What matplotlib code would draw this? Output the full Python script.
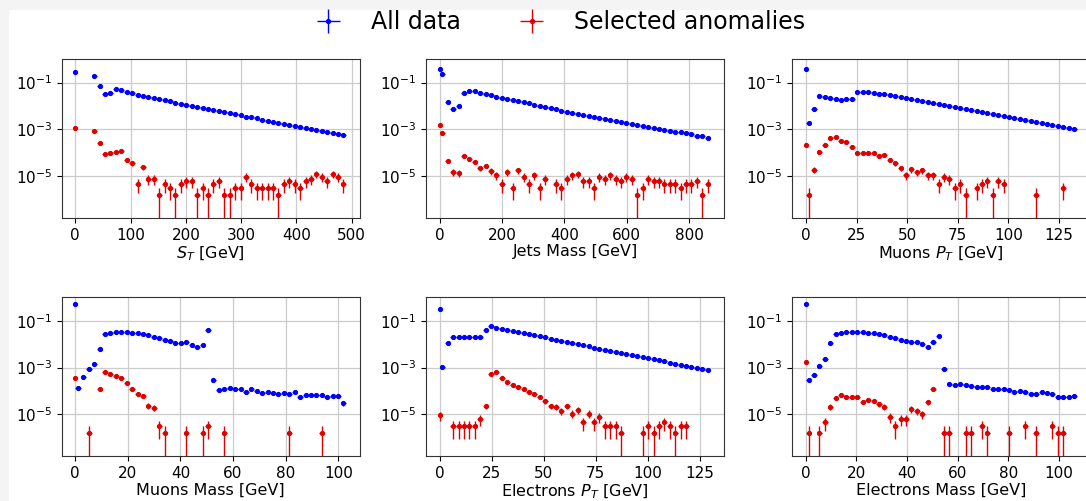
import numpy as np
import matplotlib
matplotlib.use("Agg")
import matplotlib.pyplot as plt
from matplotlib.patches import Rectangle
from matplotlib.ticker import NullLocator

# fraction of the full sample carried by one event (the lowest red level)
EVENT_WEIGHT = 1.5e-6
N_BINS = 50

# --- S_T ---------------------------------------------------------------
st_max = 490.0
st_zero = (0.28, 1.08e-3)
st_blue = [0, 0, 0, 0.187, 0.0743, 0.0336, 0.0371, 0.0533, 0.0483, 0.041,
           0.0347, 0.0304, 0.0272, 0.0243, 0.0217, 0.0194, 0.0173, 0.0155, 0.0138, 0.0123,
           0.0110, 0.0099, 0.0089, 0.0081, 0.0073, 0.0066, 0.0059, 0.0053, 0.0048, 0.0043,
           0.0039, 0.0035, 0.0032, 0.0029, 0.0026, 0.0023, 0.0021, 0.0019, 0.0017, 0.00155,
           0.0014, 0.00126, 0.00114, 0.00103, 0.00093, 0.00084, 0.00076, 0.00068, 0.00061, 0.00056]
st_red = [0, 0, 0, 8.3e-4, 2.45e-4, 8.8e-5, 9.4e-5, 1.07e-4, 1.18e-4, 4.9e-5,
          3.4e-5, 4.5e-6, 2.4e-5, 7.5e-6, 7.5e-6, 1.5e-6, 4.5e-6, 3e-6, 1.5e-6, 4.5e-6,
          6e-6, 6e-6, 1.5e-6, 3e-6, 1.5e-6, 4.5e-6, 6e-6, 1.5e-6, 1.5e-6, 3e-6,
          3e-6, 9e-6, 4.5e-6, 3e-6, 3e-6, 3e-6, 3e-6, 1.5e-6, 4.5e-6, 6e-6,
          4.5e-6, 3e-6, 6e-6, 7.5e-6, 1.2e-5, 9e-6, 6e-6, 1.2e-5, 9e-6, 4.5e-6]

# --- Jets mass ---------------------------------------------------------
jm_max = 868.0
jm_zero = (0.375, 1.5e-3)
jm_blue = [0.244, 0.0152, 0.00736, 0.0102, 0.0371, 0.0453, 0.0424, 0.0359, 0.0315, 0.0285,
           0.0250, 0.0224, 0.0200, 0.0178, 0.0159, 0.0142, 0.0127, 0.0113, 0.0101, 0.0090,
           0.0080, 0.0071, 0.0063, 0.0056, 0.0051, 0.0046, 0.0041, 0.0037, 0.0033, 0.0030,
           0.0027, 0.0025, 0.0022, 0.0020, 0.0018, 0.00165, 0.0015, 0.00135, 0.00125, 0.00113,
           0.00103, 0.00094, 0.00088, 0.00079, 0.00073, 0.00066, 0.0006, 0.00053, 0.00049, 0.00044]
jm_red = [6.8e-4, 4.4e-5, 1.43e-5, 1.35e-5, 7.4e-5, 5.5e-5, 3.85e-5, 2.1e-5, 2.7e-5, 1.6e-5,
          1.05e-5, 4.5e-6, 1.43e-5, 3e-6, 1.75e-5, 9e-6, 4.5e-6, 1.05e-5, 3e-6, 7.5e-6,
          0, 4.5e-6, 3e-6, 7.5e-6, 1.05e-5, 1.2e-5, 6e-6, 6e-6, 3e-6, 9e-6,
          7.5e-6, 1.05e-5, 7.5e-6, 6e-6, 9e-6, 7.5e-6, 1.5e-6, 3e-6, 7.5e-6, 6e-6,
          6e-6, 4.5e-6, 4.5e-6, 4.5e-6, 3e-6, 4.5e-6, 4.5e-6, 6e-6, 1.5e-6, 4.5e-6]

# --- Muons P_T ---------------------------------------------------------
mpt_max = 133.7
mpt_zero = (0.387, 2.1e-4)
mpt_blue = [1.84e-3, 7.4e-3, 0.0275, 0.0250, 0.0227, 0.0198, 0.0179, 0.0190, 0.0205, 0.0384,
            0.041, 0.0384, 0.0359, 0.0336, 0.0315, 0.0295, 0.0267, 0.0242, 0.0219, 0.0192,
            0.0176, 0.0160, 0.0146, 0.0133, 0.0121, 0.0110, 0.0100, 0.0091, 0.0083, 0.0075,
            0.0068, 0.0062, 0.0056, 0.0051, 0.0046, 0.0042, 0.0038, 0.0034, 0.0031, 0.0028,
            0.0025, 0.0023, 0.0021, 0.0019, 0.0017, 0.00155, 0.0014, 0.00127, 0.00115, 0.00101]
mpt_red = [1.5e-6, 1.86e-5, 1.04e-4, 2.2e-4, 4.4e-4, 4.5e-4, 3.2e-4, 2.7e-4, 1.76e-4, 1.0e-4,
           1.0e-4, 1.0e-4, 9.8e-5, 7.0e-5, 7.6e-5, 5.0e-5, 3.4e-5, 2.1e-5, 1.05e-5, 1.9e-5,
           1.4e-5, 1.7e-5, 1.05e-5, 1.05e-5, 4.5e-6, 9e-6, 7.5e-6, 3e-6, 4.5e-6, 1.5e-6,
           0, 3e-6, 4.5e-6, 6e-6, 1.5e-6, 6e-6, 4.5e-6, 0, 0, 0,
           0, 0, 1.5e-6, 0, 0, 0, 0, 3e-6, 0, 0]

# --- Muons mass --------------------------------------------------------
mm_max = 103.0
mm_zero = (0.515, 3.6e-4)
mm_blue = [1.33e-4, 4.1e-4, 8.4e-4, 1.41e-3, 5.97e-3, 0.0279, 0.0318, 0.034, 0.034, 0.0329,
           0.0318, 0.0297, 0.0270, 0.0244, 0.0214, 0.0182, 0.0159, 0.0131, 0.0115, 0.0115,
           0.0119, 0.0097, 0.0073, 0.0097, 0.0427, 3.0e-4, 1.1e-4, 1.17e-4, 1.33e-4, 1.17e-4,
           1.17e-4, 9.3e-5, 1.17e-4, 1.0e-4, 7.7e-5, 9.3e-5, 8.4e-5, 7.2e-5, 8.2e-5, 7.2e-5,
           8.8e-5, 5.2e-5, 6.7e-5, 6.7e-5, 6.4e-5, 6.7e-5, 5.7e-5, 6.1e-5, 6.1e-5, 2.95e-5]
mm_red = [0, 0, 1.5e-6, 0, 1.2e-4, 6.2e-4, 5.5e-4, 4.2e-4, 3.4e-4, 2.1e-4,
          1.2e-4, 7.1e-5, 6.1e-5, 2.3e-5, 1.9e-5, 3e-6, 1.5e-6, 0, 0, 0,
          1.5e-6, 0, 0, 1.5e-6, 3e-6, 0, 0, 1.5e-6, 0, 0,
          0, 0, 0, 0, 0, 0, 0, 0, 0, 1.5e-6,
          0, 0, 0, 0, 0, 1.5e-6, 0, 0, 0, 0]

# --- Electrons P_T -----------------------------------------------------
ept_max = 130.0
ept_zero = (0.315, 9e-6)
ept_blue = [1.09e-3, 0.0108, 0.0201, 0.021, 0.0195, 0.0195, 0.0195, 0.0214, 0.0427, 0.059,
            0.0503, 0.0456, 0.0413, 0.0374, 0.0328, 0.0298, 0.0268, 0.0241, 0.0217, 0.0195,
            0.0175, 0.0157, 0.0140, 0.0125, 0.0112, 0.0100, 0.0089, 0.0080, 0.0071, 0.0064,
            0.0057, 0.0052, 0.0047, 0.0042, 0.0038, 0.0034, 0.0031, 0.0028, 0.0025, 0.00225,
            0.00203, 0.00182, 0.00163, 0.00147, 0.00132, 0.00119, 0.00106, 0.00096, 0.00087, 0.00078]
ept_red = [0, 0, 3e-6, 3e-6, 3e-6, 3e-6, 3e-6, 6e-6, 2.27e-5, 5.3e-4,
           6.2e-4, 3.4e-4, 2.4e-4, 1.85e-4, 1.52e-4, 1.17e-4, 9.3e-5, 7.1e-5, 5.7e-5, 3.5e-5,
           2.27e-5, 2.1e-5, 1.4e-5, 2.27e-5, 1.05e-5, 1.53e-5, 4.5e-6, 1.05e-5, 4.5e-6, 7.5e-6,
           3e-6, 3e-6, 3e-6, 1.5e-6, 0, 0, 0, 1.5e-6, 3e-6, 1.5e-6,
           3e-6, 4.5e-6, 3e-6, 1.5e-6, 3e-6, 3e-6, 0, 0, 0, 0]

# --- Electrons mass ----------------------------------------------------
em_max = 107.0
em_zero = (0.515, 1.72e-3)
em_blue = [2.9e-4, 4.9e-4, 1.12e-3, 2.38e-3, 0.0111, 0.0279, 0.0318, 0.034, 0.034, 0.034,
           0.0329, 0.0318, 0.0297, 0.027, 0.0244, 0.0214, 0.0178, 0.0154, 0.0135, 0.0127,
           0.0119, 0.010, 7.8e-3, 0.0123, 0.0229, 8.4e-4, 2.04e-4, 1.8e-4, 1.98e-4, 1.74e-4,
           1.68e-4, 1.4e-4, 1.4e-4, 1.46e-4, 1.2e-4, 1.2e-4, 1.2e-4, 1.1e-4, 9.1e-5, 1.03e-4,
           9.1e-5, 7.2e-5, 7.2e-5, 9.3e-5, 8e-5, 7.0e-5, 5.4e-5, 5.2e-5, 5.4e-5, 6.1e-5]
em_red = [1.5e-6, 0, 1.5e-6, 4.5e-6, 2.1e-5, 4.8e-5, 6.9e-5, 5.7e-5, 5.2e-5, 5.7e-5,
          3.4e-5, 4.2e-5, 3.7e-5, 2.67e-5, 2.06e-5, 7.5e-6, 3e-6, 6e-6, 6e-6, 1.64e-5,
          1.4e-5, 1.03e-5, 3.25e-5, 1.17e-4, 0, 1.5e-6, 1.5e-6, 0, 0, 1.5e-6,
          1.5e-6, 0, 3e-6, 1.5e-6, 0, 0, 0, 1.5e-6, 0, 0,
          3e-6, 0, 1.5e-6, 0, 0, 3e-6, 1.5e-6, 1.5e-6, 0, 0]

PANELS = [
    (r"$S_T$ [GeV]", st_max, st_zero, st_blue, st_red),
    ("Jets Mass [GeV]", jm_max, jm_zero, jm_blue, jm_red),
    (r"Muons $P_T$ [GeV]", mpt_max, mpt_zero, mpt_blue, mpt_red),
    ("Muons Mass [GeV]", mm_max, mm_zero, mm_blue, mm_red),
    (r"Electrons $P_T$ [GeV]", ept_max, ept_zero, ept_blue, ept_red),
    ("Electrons Mass [GeV]", em_max, em_zero, em_blue, em_red),
]

BLUE = "#0000ff"
RED = "#e00000"

W, H = 1086, 501
COL_LEFT = [61.7, 426.0, 792.3]
ROW_TOP = [59.0, 297.3]
AX_W, AX_H = 298.0, 159.0


def _series(xmax, zero_val, values):
    # zero bin at x=0 plus 50 equal bins on [0, xmax]; Poisson error per bin
    edges = np.linspace(0, xmax, N_BINS + 1)
    x = np.concatenate([[0.0], 0.5 * (edges[:-1] + edges[1:])])
    xe = np.concatenate([[0.0], 0.5 * np.diff(edges)])
    y = np.concatenate([[zero_val], np.asarray(values, dtype=float)])
    m = y > 0
    ye = np.sqrt(y * EVENT_WEIGHT)
    return x[m], y[m], xe[m], ye[m]


fig = plt.figure(figsize=(W / 100, H / 100), dpi=100, facecolor="#f4f4f4")
fig.add_artist(Rectangle((9 / W, 0), 1, 1 - 10 / H, transform=fig.transFigure,
                         facecolor="white", edgecolor="none", zorder=-5))

handles = None
for i, (label, xmax, zero, blue, red) in enumerate(PANELS):
    r, c = divmod(i, 3)
    ax = fig.add_axes([COL_LEFT[c] / W, 1 - (ROW_TOP[r] + AX_H) / H, AX_W / W, AX_H / H])
    ax.set_yscale("log")
    bx, by, bxe, bye = _series(xmax, zero[0], blue)
    rx, ry, rxe, rye = _series(xmax, zero[1], red)
    hb = ax.errorbar(bx, by, xerr=bxe, yerr=bye, fmt=".", color=BLUE, ms=5.5,
                     elinewidth=1.0, label="All data")
    hr = ax.errorbar(rx, ry, xerr=rxe, yerr=rye, fmt=".", color=RED, ms=5.5,
                     elinewidth=1.0, label="Selected anomalies")
    if handles is None:
        handles = [hb, hr]
    ax.set_ylim(1.55e-7, 1.03)
    ax.set_yticks([1e-5, 1e-3, 1e-1])
    ax.yaxis.set_minor_locator(NullLocator())
    ax.grid(True, color="#cccccc", linewidth=0.9)
    ax.set_axisbelow(True)
    ax.tick_params(labelsize=11)
    for sp in ax.spines.values():
        sp.set_color("#333333")
    ax.set_xlabel(label, fontsize=11.5, labelpad=1)

fig.legend(handles, ["All data", "Selected anomalies"], loc="center",
           bbox_to_anchor=(0.511, 1 - 22 / H), ncol=2, frameon=False, fontsize=17)

fig.savefig("out.png", dpi=100, facecolor=fig.get_facecolor())
